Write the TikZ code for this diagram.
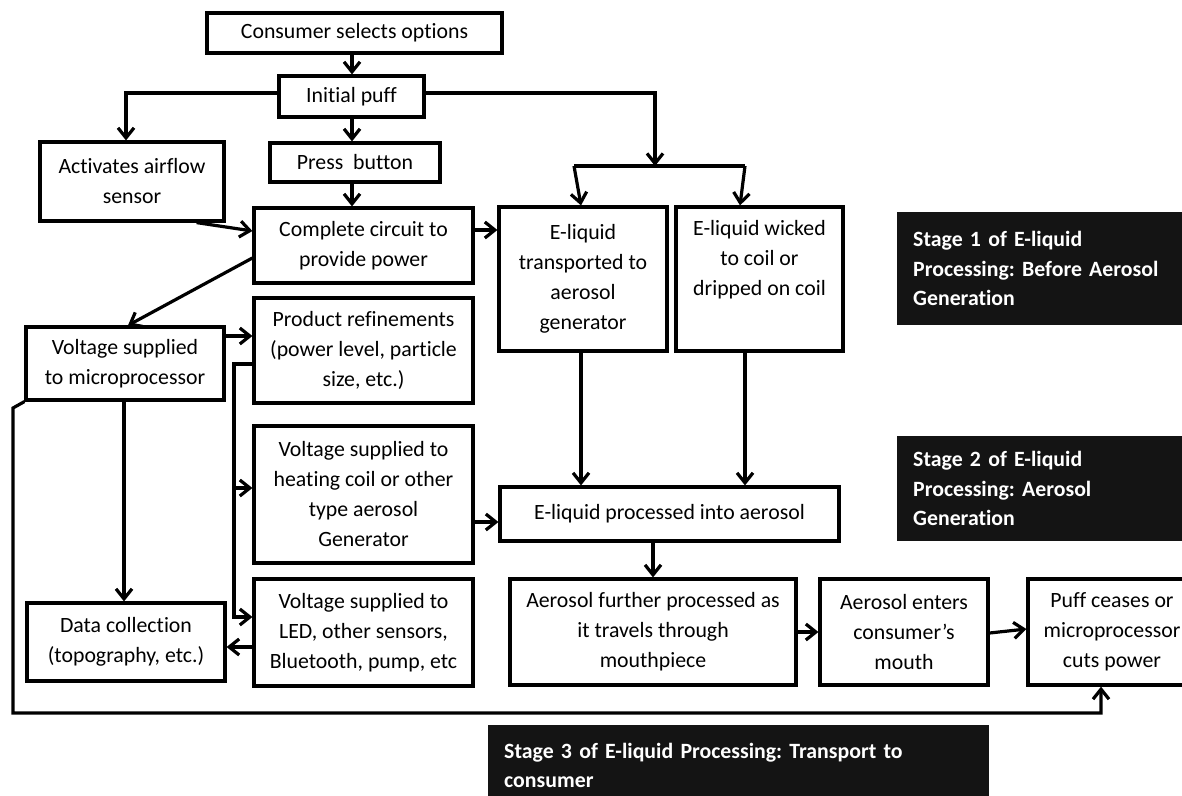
\documentclass[tikz,border=0pt]{standalone}
\usepackage{fontspec}
\setmainfont{Carlito}[Ligatures=NoCommon]
\usetikzlibrary{arrows.meta}
\definecolor{stageblack}{HTML}{141414}
\newcommand\boxfont{\fontsize{21.8}{30}\selectfont}
\newcommand\stagefont{\fontsize{21.8}{29.5}\selectfont\bfseries}
\frenchspacing
\begin{document}
\begin{tikzpicture}[x=1pt,y=-1pt,
        proc/.style={draw,line width=3.2pt,align=center,inner sep=0pt,font=\boxfont},
        stage/.style={fill=stageblack,text=white,align=left,anchor=north west,inner xsep=16pt,inner ysep=0pt,font=\stagefont},
        flow/.style={line width=3.2pt,-{Straight Barb[length=10pt,width=16pt]}},
        link/.style={line width=3.2pt}
        ]
        \useasboundingbox (0,0) rectangle (1182,795);
        \node (consumer) [proc,minimum width=295,minimum height=40] at (354.5,33) {Consumer selects options};
        \node (puff) [proc,minimum width=145,minimum height=41] at (351.5,96.5) {Initial puff};
        \node (activ) [proc,minimum width=184,minimum height=79] at (132,181.5) {Activates airflow\\sensor};
        \node (press) [proc,minimum width=170,minimum height=39] at (355,162.5) {Press\ \ button};
        \node (complete) [proc,minimum width=219,minimum height=75] at (363.5,245.5) {Complete circuit to\\provide power};
        \node (trans) [proc,minimum width=168,minimum height=144] at (583,279) {E-liquid\\transported to\\aerosol\\generator};
        \node (wicked) [proc,minimum width=167,minimum height=144] at (759.5,279) {E-liquid wicked\\to coil or\\dripped on coil\\[12pt]};
        \node (micro) [proc,minimum width=198,minimum height=73] at (125,363.5) {Voltage supplied\\to microprocessor};
        \node (product) [proc,minimum width=219,minimum height=105] at (363.5,350.5) {Product refinements\\(power level, particle\\size, etc.)};
        \node (heating) [proc,minimum width=219,minimum height=137] at (363.5,494.5) {Voltage supplied to\\heating coil or other\\type aerosol\\Generator};
        \node (processed) [proc,minimum width=339,minimum height=54] at (669.5,514) {E-liquid processed into aerosol};
        \node (data) [proc,minimum width=198,minimum height=78] at (126,642) {Data collection\\(topography, etc.)};
        \node (led) [proc,minimum width=219,minimum height=107] at (363.5,632.5) {Voltage supplied to\\LED, other sensors,\\Bluetooth, pump, etc};
        \node (further) [proc,minimum width=286,minimum height=106] at (653,632) {Aerosol further processed as\\it travels through\\mouthpiece};
        \node (enters) [proc,minimum width=168,minimum height=106] at (904,632) {Aerosol enters\\consumer’s\\mouth};
        \node (puffend) [proc,minimum width=168,minimum height=106] at (1112,632) {Puff ceases or\\microprocessor\\cuts power};
        \node (stage1) [stage,text width=270pt,minimum height=113] at (897,212) {Stage 1 of E-liquid\\Processing: Before Aerosol\\Generation};
        \node (stage2) [stage,text width=270pt,minimum height=105] at (897,436) {Stage 2 of E-liquid\\Processing: Aerosol\\Generation};
        \node (stage3) [stage,text width=469pt,minimum height=80] at (488,725) {Stage 3 of E-liquid Processing: Transport to\\consumer};
        \coordinate (pl) at (126,93);
        \coordinate (pr) at (655,93);
        \coordinate (barl) at (574,166);
        \coordinate (barr) at (745,166);
        \coordinate (split) at (234,364);
        \draw[flow] (consumer.south -| 352,0) -- (puff.north -| 352,0);
        \draw[flow] (puff.south -| 352,0) -- (press.north -| 352,0);
        \draw[flow] (press.south -| 352,0) -- (complete.north -| 352,0);
        \draw[flow] (puff.west |- pl) -| (activ.north -| pl);
        \draw[flow] (puff.east |- pr) -| (pr |- barl);
        \draw[link] (barl) -- (barr);
        \draw[flow] (barl) -- (trans.north -| 581,0);
        \draw[flow] (barr) -- (wicked.north -| 740,0);
        \draw[flow] ([xshift=-29pt]activ.south east) -- (complete.west |- 0,231);
        \draw[flow] (complete.east |- 0,230) -- (trans.west |- 0,230);
        \draw[flow] (complete.west |- 0,258) -- (micro.north -| 128,0);
        \draw[flow] (micro.east |- 0,336) -- (product.west |- 0,336);
        \draw[flow] (product.west |- split) -- (split) |- (led.west |- 0,617);
        \draw[flow] (split |- 0,488) -- (heating.west |- 0,488);
        \draw[flow] (micro.south -| 124,0) -- (data.north -| 124,0);
        \draw[flow] (led.west |- 0,647) -- (data.east |- 0,647);
        \draw[flow] (heating.east |- 0,522) -- (processed.west |- 0,522);
        \draw[flow] (trans.south -| 581,0) -- (processed.north -| 581,0);
        \draw[flow] (wicked.south -| 745,0) -- (processed.north -| 745,0);
        \draw[flow] (processed.south -| 653,0) -- (further.north -| 653,0);
        \draw[flow] (further.east |- 0,632) -- (enters.west |- 0,632);
        \draw[flow] (enters.east |- 0,633) -- (puffend.west |- 0,629);
        \draw[flow] (micro.south west) -- (13,408) -- (13,713) -| (puffend.south -| 1101,0);
\end{tikzpicture}
\end{document}
